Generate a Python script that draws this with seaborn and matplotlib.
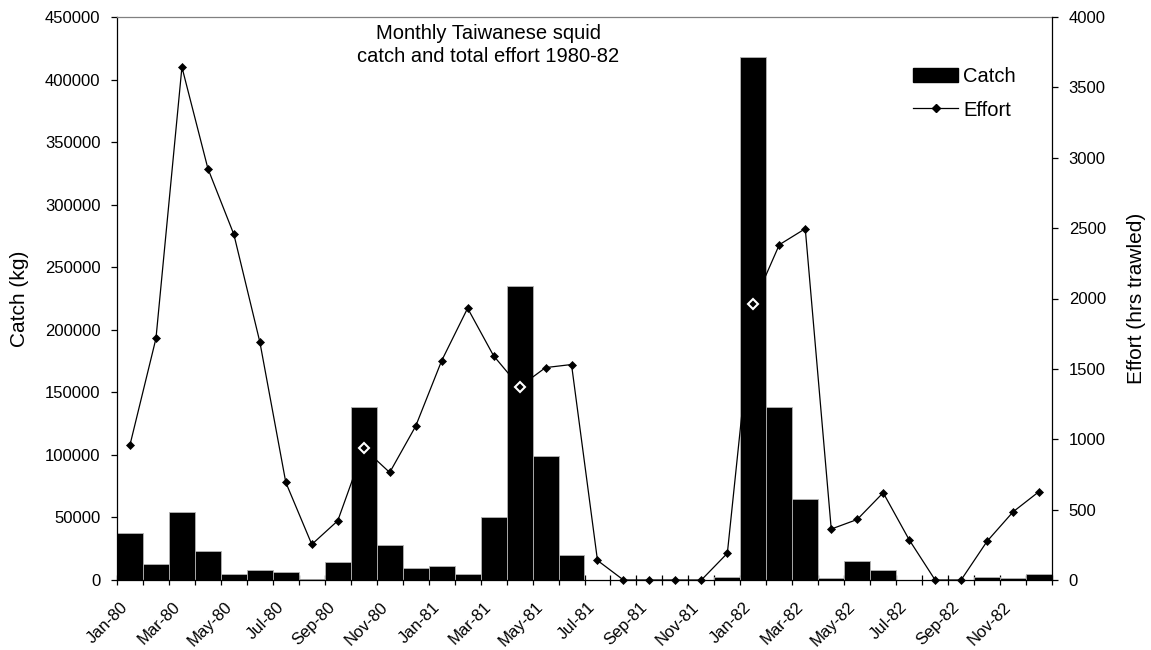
import numpy as np
import pandas as pd
import matplotlib
matplotlib.use("Agg")
import matplotlib.pyplot as plt
from matplotlib.patches import Patch
from matplotlib.lines import Line2D
import seaborn as sns

plt.rcParams['font.family'] = ['Liberation Sans', 'DejaVu Sans']

months = ['Jan-80', 'Feb-80', 'Mar-80', 'Apr-80', 'May-80', 'Jun-80', 'Jul-80', 'Aug-80',
          'Sep-80', 'Oct-80', 'Nov-80', 'Dec-80',
          'Jan-81', 'Feb-81', 'Mar-81', 'Apr-81', 'May-81', 'Jun-81', 'Jul-81', 'Aug-81',
          'Sep-81', 'Oct-81', 'Nov-81', 'Dec-81',
          'Jan-82', 'Feb-82', 'Mar-82', 'Apr-82', 'May-82', 'Jun-82', 'Jul-82', 'Aug-82',
          'Sep-82', 'Oct-82', 'Nov-82', 'Dec-82']

catch = [37600, 13000, 54000, 23500, 4600, 7600, 6100, 900, 14400, 138300, 27800, 9500,
         11000, 4600, 50500, 234700, 99400, 19900, 0, 0, 0, 0, 0, 2500,
         418000, 138300, 64900, 1200, 14800, 7600, 0, 0, 0, 2000, 1800, 5000]

effort = [960, 1716, 3644, 2923, 2455, 1691, 693, 253, 421, 935, 764, 1093,
          1558, 1931, 1593, 1373, 1509, 1531, 139, 0, 0, 0, 0, 190,
          1961, 2382, 2496, 362, 430, 620, 286, 0, 0, 275, 484, 628]

catch_ticks = list(range(0, 450001, 50000))
effort_ticks = list(range(0, 4001, 500))
title = "Monthly Taiwanese squid\ncatch and total effort 1980-82"

df = pd.DataFrame({'month': months, 'catch': catch, 'effort': effort})
df['pos'] = np.arange(len(df))

W, H = 1151, 650
fig = plt.figure(figsize=(W / 100, H / 100), dpi=100)
ax = fig.add_axes([117 / W, 1 - 580 / H, 935 / W, 563 / H])

sns.barplot(data=df, x='month', y='catch', color='black', saturation=1, width=1.0,
            edgecolor='#b4b4b4', linewidth=0.6, ax=ax, zorder=2)
ax.set_xlim(-0.5, len(df) - 0.5)
ax.set_ylim(catch_ticks[0], catch_ticks[-1])
ax.set_yticks(catch_ticks)
ax.set_yticklabels([str(v) for v in catch_ticks])

ax2 = ax.twinx()
sns.lineplot(data=df, x='pos', y='effort', color='black', linewidth=0.9, marker='D',
             markersize=4.2, markeredgecolor='black', markeredgewidth=0.5, ax=ax2,
             clip_on=False, zorder=3)
# markers that fall inside the black bars are shown white-outlined
inside = (df['effort'] / effort_ticks[-1]) < (df['catch'] / catch_ticks[-1])
ax2.plot(df.loc[inside, 'pos'], df.loc[inside, 'effort'], linestyle='none', marker='D',
         markersize=5.5, markerfacecolor='black', markeredgecolor='white',
         markeredgewidth=1.5, zorder=4)
ax2.set_ylim(effort_ticks[0], effort_ticks[-1])
ax2.set_yticks(effort_ticks)
ax2.set_yticklabels([str(v) for v in effort_ticks])
ax2.set_xlim(-0.5, len(df) - 0.5)

# x axis: ticks at month boundaries, labels every other month (anchored a little left of centre)
label_shift = 0.38
ax.set_xticks(np.arange(0, len(df), 2) - label_shift)
ax.set_xticklabels(months[::2], rotation=45, ha='right', va='top', rotation_mode='anchor',
                   fontsize=12)
ax.set_xticks(np.arange(-0.5, len(df), 1), minor=True)
ax.tick_params(axis='x', which='major', length=0, pad=14)
ax.tick_params(axis='x', which='minor', direction='inout', length=7, width=0.9, color='black')
ax.set_xlabel('')

ax.tick_params(axis='y', direction='out', length=4, width=0.9, pad=8, labelsize=12)
ax2.tick_params(axis='y', direction='out', length=4, width=0.9, pad=8, labelsize=12)

ax.set_ylabel('Catch (kg)', fontsize=15)
ax.yaxis.set_label_coords((29 - 117) / 935, 0.5)
ax2.set_ylabel('Effort (hrs trawled)', fontsize=15)
ax2.yaxis.set_label_coords((1127 - 117) / 935, 0.5)

for a in (ax, ax2):
    for s in a.spines.values():
        s.set_linewidth(0.9)
ax.spines['top'].set_color('#808080')
ax.spines['right'].set_visible(False)
ax.spines['left'].set_color('black')
ax.spines['bottom'].set_color('black')
ax2.spines['top'].set_visible(False)
ax2.spines['left'].set_visible(False)
ax2.spines['bottom'].set_visible(False)
ax2.spines['right'].set_color('black')
ax2.set_xlabel('')

ax.text((488 - 117) / 935, (580 - 45) / 563, title, transform=ax.transAxes,
        ha='center', va='center', fontsize=14.5, linespacing=1.25)

handles = [Patch(facecolor='black', edgecolor='black'),
           Line2D([], [], color='black', linewidth=0.9, marker='D', markersize=4.2)]
leg = ax2.legend(handles, ['Catch', 'Effort'], loc='upper left',
                 bbox_to_anchor=((913 - 117) / 935, 1 - (67 - 17) / 563),
                 frameon=False, fontsize=14.5, borderpad=0, borderaxespad=0,
                 handlelength=2.25, handleheight=0.75, handletextpad=0.25,
                 labelspacing=0.72)

fig.savefig('out.png', dpi=100)
